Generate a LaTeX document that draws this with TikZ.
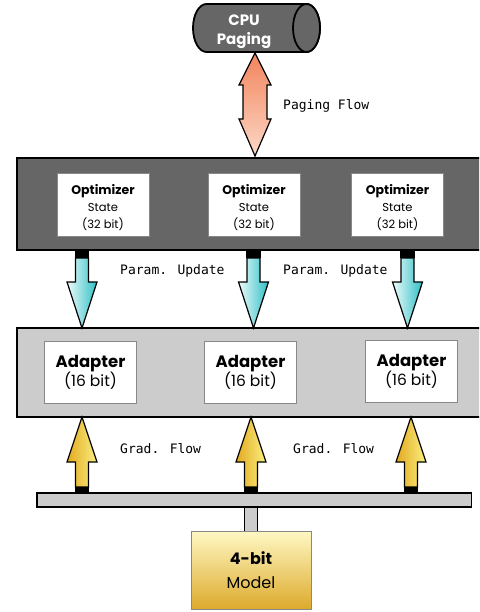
\documentclass[tikz,border=0pt]{standalone}
\usepackage{fontspec}
\setmainfont{Poppins}
\newfontfamily\labfont{DejaVu Sans Mono}
\newcommand{\tightlines}{\lineskiplimit=-20pt\lineskip=0pt\relax}
\definecolor{darkband}{HTML}{666666}
\definecolor{lightband}{HTML}{CCCCCC}
\definecolor{boxline}{HTML}{888888}
\definecolor{tealR}{HTML}{2EC0C6}
\definecolor{tealL}{HTML}{EEFAFA}
\definecolor{goldL}{HTML}{E2AA22}
\definecolor{goldR}{HTML}{FBEF80}
\definecolor{pageT}{HTML}{F2845C}
\definecolor{pageB}{HTML}{FCD8C6}
\definecolor{modT}{HTML}{FFF8C4}
\definecolor{modB}{HTML}{DDAA2C}
\tikzset{
  bandline/.style={draw=black, line width=1.8pt},
  optbox/.style={draw=boxline, fill=white, line width=0.8pt, minimum width=92pt, minimum height=63pt, inner sep=0pt},
  opttext/.style={align=center, inner sep=0pt, font={\fontsize{11.5}{17}\selectfont\tightlines}},
  adbox/.style={draw=boxline, fill=white, line width=0.8pt, minimum width=92pt, minimum height=62pt, inner sep=0pt},
  adtext/.style={align=center, inner sep=0pt, font={\fontsize{15.5}{19}\selectfont\tightlines}},
  lab/.style={font=\labfont\fontsize{13}{15}\selectfont, inner sep=0pt},
  arrline/.style={draw=black, line width=1.2pt, line join=miter},
  paramarr/.style={arrline, left color=tealL, right color=tealR},
  gradarr/.style={arrline, left color=goldL, right color=goldR},
  cyl/.style={draw=black, line width=1.8pt, fill=darkband},
}
\newcommand{\downarr}[4]{% x, ytail, yheadbase, ytip
  \draw[paramarr] (#1-6.5,#2+7) -- (#1-6.5,#3) -- (#1-15,#3) -- (#1,#4) -- (#1+15,#3) -- (#1+6.5,#3) -- (#1+6.5,#2+7) -- cycle;
  \fill[black] (#1-7.2,#2) rectangle (#1+7.2,#2+7);
}
\newcommand{\uparr}[4]{% x, ytail, yheadbase, ytip
  \draw[gradarr] (#1-6.5,#2-6) -- (#1-6.5,#3) -- (#1-15,#3) -- (#1,#4) -- (#1+15,#3) -- (#1+6.5,#3) -- (#1+6.5,#2-6) -- cycle;
  \fill[black] (#1-7.2,#2-6) rectangle (#1+7.2,#2);
}
\begin{document}
\begin{tikzpicture}[x=1pt,y=-1pt]
\useasboundingbox (0,0) rectangle (479,612);
\clip (0,0) rectangle (479,612);

% CPU paging cylinder (horizontal, cap on the right)
\draw[cyl] (206.5,4) -- (306.5,4)
  arc[start angle=-90, end angle=90, x radius=13.5, y radius=24]
  -- (206.5,52)
  arc[start angle=90, end angle=270, x radius=13.5, y radius=24] -- cycle;
\draw[cyl] (306.5,28) ellipse[x radius=13.5, y radius=24];
\node[text=white, align=center, inner sep=0pt, font={\bfseries\fontsize{15}{19}\selectfont\tightlines}]
      (cputext) at (244,32) {CPU\\Paging};

% paging double arrow
\draw[arrline, top color=pageT, bottom color=pageB]
  (255,53) -- (271,85) -- (267,85) -- (267,119) -- (271,119) -- (255,156)
  -- (239,119) -- (243,119) -- (243,85) -- (239,85) -- cycle;
\node[lab, anchor=west] (pflow) at (283,106) {Paging Flow};

% dark band with optimizer states
\fill[darkband] (17,158) rectangle (490,250);
\draw[bandline] (490,158) -- (17,158) -- (17,250) -- (490,250);
\node[optbox] (opt1) at (103,204.5) {};
\node[optbox] (opt2) at (254,204.5) {};
\node[optbox] (opt3) at (397.5,204.5) {};
\node[opttext] (opt1t) at (103,207.5) {{\bfseries\fontsize{12.5}{17}\selectfont Optimizer}\\State\\(32 bit)};
\node[opttext] (opt2t) at (254,207.5) {{\bfseries\fontsize{12.5}{17}\selectfont Optimizer}\\State\\(32 bit)};
\node[opttext] (opt3t) at (397.5,207.5) {{\bfseries\fontsize{12.5}{17}\selectfont Optimizer}\\State\\(32 bit)};

% light band with adapters
\fill[lightband] (17,328) rectangle (490,417);
\draw[bandline] (490,328) -- (17,328) -- (17,417) -- (490,417);
\node[adbox] (ad1) at (90.5,372) {};
\node[adbox] (ad2) at (250.5,372) {};
\node[adbox] (ad3) at (411.5,371) {};
\node[adtext] (ad1t) at (90.5,372.5) {{\bfseries\fontsize{16.5}{19}\selectfont Adapter}\\(16 bit)};
\node[adtext] (ad2t) at (250.5,372.5) {{\bfseries\fontsize{16.5}{19}\selectfont Adapter}\\(16 bit)};
\node[adtext] (ad3t) at (411.5,371.5) {{\bfseries\fontsize{16.5}{19}\selectfont Adapter}\\(16 bit)};

% param update arrows
\downarr{82}{251}{282}{328}
\downarr{253.5}{251}{282}{328}
\downarr{407.5}{251}{282}{328}
\node[lab, anchor=west] (pu1) at (120,271) {Param. Update};
\node[lab, anchor=west] (pu2) at (283,271) {Param. Update};

% bottom bar, stem and model
\draw[draw=black, line width=1.2pt, fill=lightband] (37,493) rectangle (471.5,507);
\draw[draw=black, line width=0.8pt, fill=lightband] (244,507) rectangle (257,531);
\node[draw=boxline, line width=0.8pt, top color=modT, bottom color=modB, minimum width=120pt, minimum height=78pt,
      inner sep=0pt, align=center, font={\fontsize{16}{24}\selectfont\tightlines}] (model) at (251,570)
      {{\bfseries 4-bit}\\Model};

% gradient flow arrows
\uparr{82}{493}{462}{417}
\uparr{251}{493}{462}{417}
\uparr{411}{493}{462}{417}
\node[lab, anchor=west] (gf1) at (120,449) {Grad. Flow};
\node[lab, anchor=west] (gf2) at (293,449) {Grad. Flow};
\end{tikzpicture}
\end{document}
